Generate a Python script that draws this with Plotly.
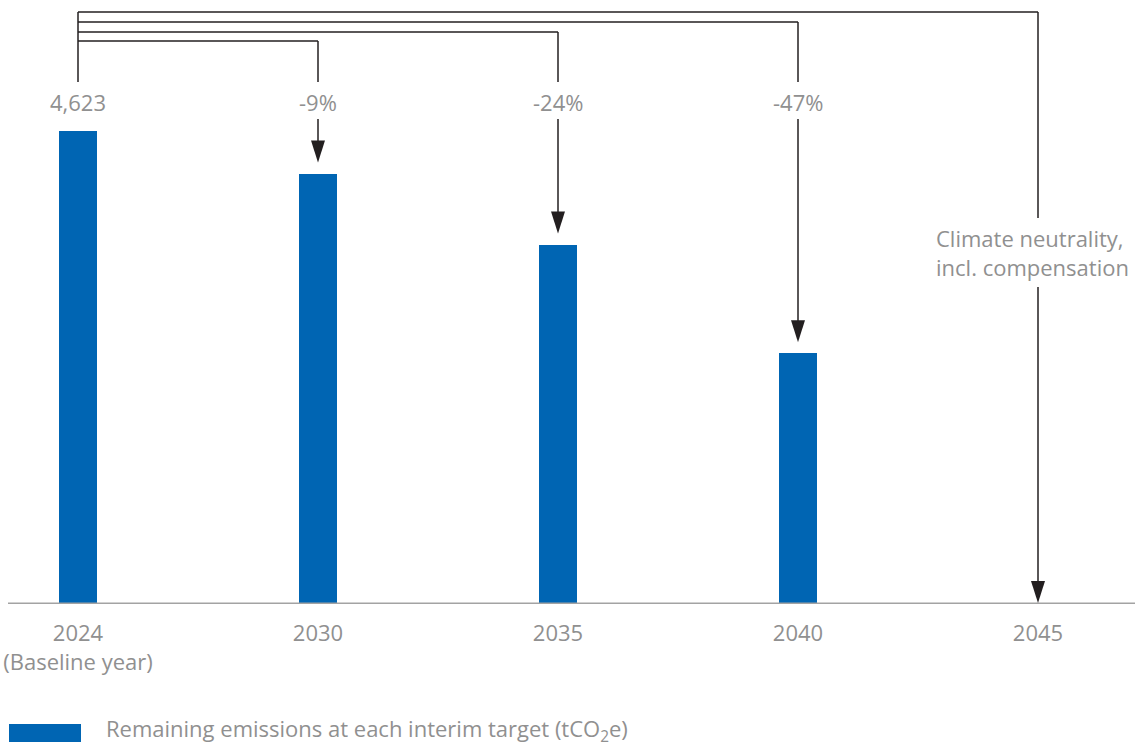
import plotly.graph_objects as go

# ---- data ----
years = ["2024", "2030", "2035", "2040", "2045"]
tick_labels = ["2024<br>(Baseline year)", "2030", "2035", "2040", "2045"]
emissions = [4623, 4207, 3513, 2450, 0]
value_labels = ["4,623", "-9%", "-24%", "-47%"]
end_note = "Climate neutrality,<br>incl. compensation"
legend_label = "Remaining emissions at each interim target (tCO<sub>2</sub>e)"

# ---- layout constants (pixels) ----
W, H = 1135, 747
ML, MR, MT, MB = 8, 0, 0, 143
PLOT_W = W - ML - MR
PLOT_H = H - MT - MB
BAR_PX = 473            # pixel height of baseline bar
CAT_PX = 240            # pixel spacing between categories
FIRST_X_PX = 78         # pixel centre of first category

ymax = max(emissions) * PLOT_H / BAR_PX
xr0 = (ML - FIRST_X_PX) / CAT_PX
xr1 = (W - FIRST_X_PX) / CAT_PX

BLUE = "#0065b3"
GRAY = "#909090"
DARK = "#231f20"
FONT = "Open Sans"
FS = 22

def py(p):  # pixel from top -> paper y
    return 1 - p / PLOT_H

def px(p):  # pixel from left -> paper x
    return (p - ML) / PLOT_W

xs = list(range(len(years)))

fig = go.Figure()
fig.add_trace(go.Bar(x=xs, y=emissions, width=38 / CAT_PX, marker_color=BLUE,
                     marker_line_width=0, showlegend=False, hoverinfo="skip"))

shapes = []
annotations = []

# baseline axis line
shapes.append(dict(type="line", xref="paper", yref="y", x0=0, x1=1, y0=0, y1=0,
                   line=dict(color="#a3a3a3", width=3), layer="above"))

line_style = dict(color=DARK, width=1.5)
LABEL_Y = 102
LINE_BOTTOM = 82
ARROW_START = 119
levels = {1: 41, 2: 32, 3: 22, 4: 12}

# left vertical
shapes.append(dict(type="line", xref="x", yref="paper", x0=0, x1=0,
                   y0=py(levels[4]), y1=py(LINE_BOTTOM), line=line_style))

for i in range(1, len(years)):
    lv = levels[i]
    # horizontal bracket
    shapes.append(dict(type="line", xref="x", yref="paper", x0=0, x1=i,
                       y0=py(lv), y1=py(lv), line=line_style))
    val = emissions[i]
    gap = 11 if val > 0 else 1
    tip = val / ymax + gap / PLOT_H
    if i < len(years) - 1:
        shapes.append(dict(type="line", xref="x", yref="paper", x0=i, x1=i,
                           y0=py(lv), y1=py(LINE_BOTTOM), line=line_style))
        start = py(ARROW_START)
    else:
        shapes.append(dict(type="line", xref="x", yref="paper", x0=i, x1=i,
                           y0=py(lv), y1=py(218), line=line_style))
        start = py(287)
    shapes.append(dict(type="line", xref="x", yref="paper", x0=i, x1=i,
                       y0=start, y1=tip + 10 / PLOT_H, line=line_style))
    # arrowhead
    shapes.append(dict(type="path", xref="x", yref="paper",
                       xsizemode="pixel", ysizemode="pixel",
                       xanchor=i, yanchor=tip,
                       path="M-7,22 L7,22 L0,0 Z",
                       fillcolor=DARK, line=dict(width=0)))

# value labels
for i, t in enumerate(value_labels):
    annotations.append(dict(x=i, y=py(LABEL_Y), xref="x", yref="paper", text=t,
                            showarrow=False, xanchor="center", yanchor="middle",
                            font=dict(family=FONT, size=FS, color=GRAY)))

# end note
annotations.append(dict(x=len(years) - 1, xshift=-104, y=py(252), xref="x", yref="paper",
                        text=end_note, showarrow=False, xanchor="left", yanchor="middle",
                        align="left", font=dict(family=FONT, size=FS, color=GRAY)))

# legend
shapes.append(dict(type="rect", xref="paper", yref="paper",
                   x0=px(9), x1=px(81), y0=py(742), y1=py(724),
                   fillcolor=BLUE, line=dict(width=0)))
annotations.append(dict(x=px(104), y=py(730), xref="paper", yref="paper",
                        text=legend_label, showarrow=False, xanchor="left",
                        yanchor="middle", font=dict(family=FONT, size=FS, color=GRAY)))

fig.update_layout(
    width=W, height=H,
    margin=dict(l=ML, r=MR, t=MT, b=MB),
    paper_bgcolor="white", plot_bgcolor="white",
    shapes=shapes, annotations=annotations,
    xaxis=dict(range=[xr0, xr1], tickvals=xs, ticktext=tick_labels,
               showgrid=False, zeroline=False, showline=False, ticks="",
               tickfont=dict(family=FONT, size=FS, color=GRAY),
               ticklabelstandoff=14),
    yaxis=dict(range=[0, ymax], visible=False, showgrid=False, zeroline=False),
    bargap=0,
)

fig.write_html("out.html")
